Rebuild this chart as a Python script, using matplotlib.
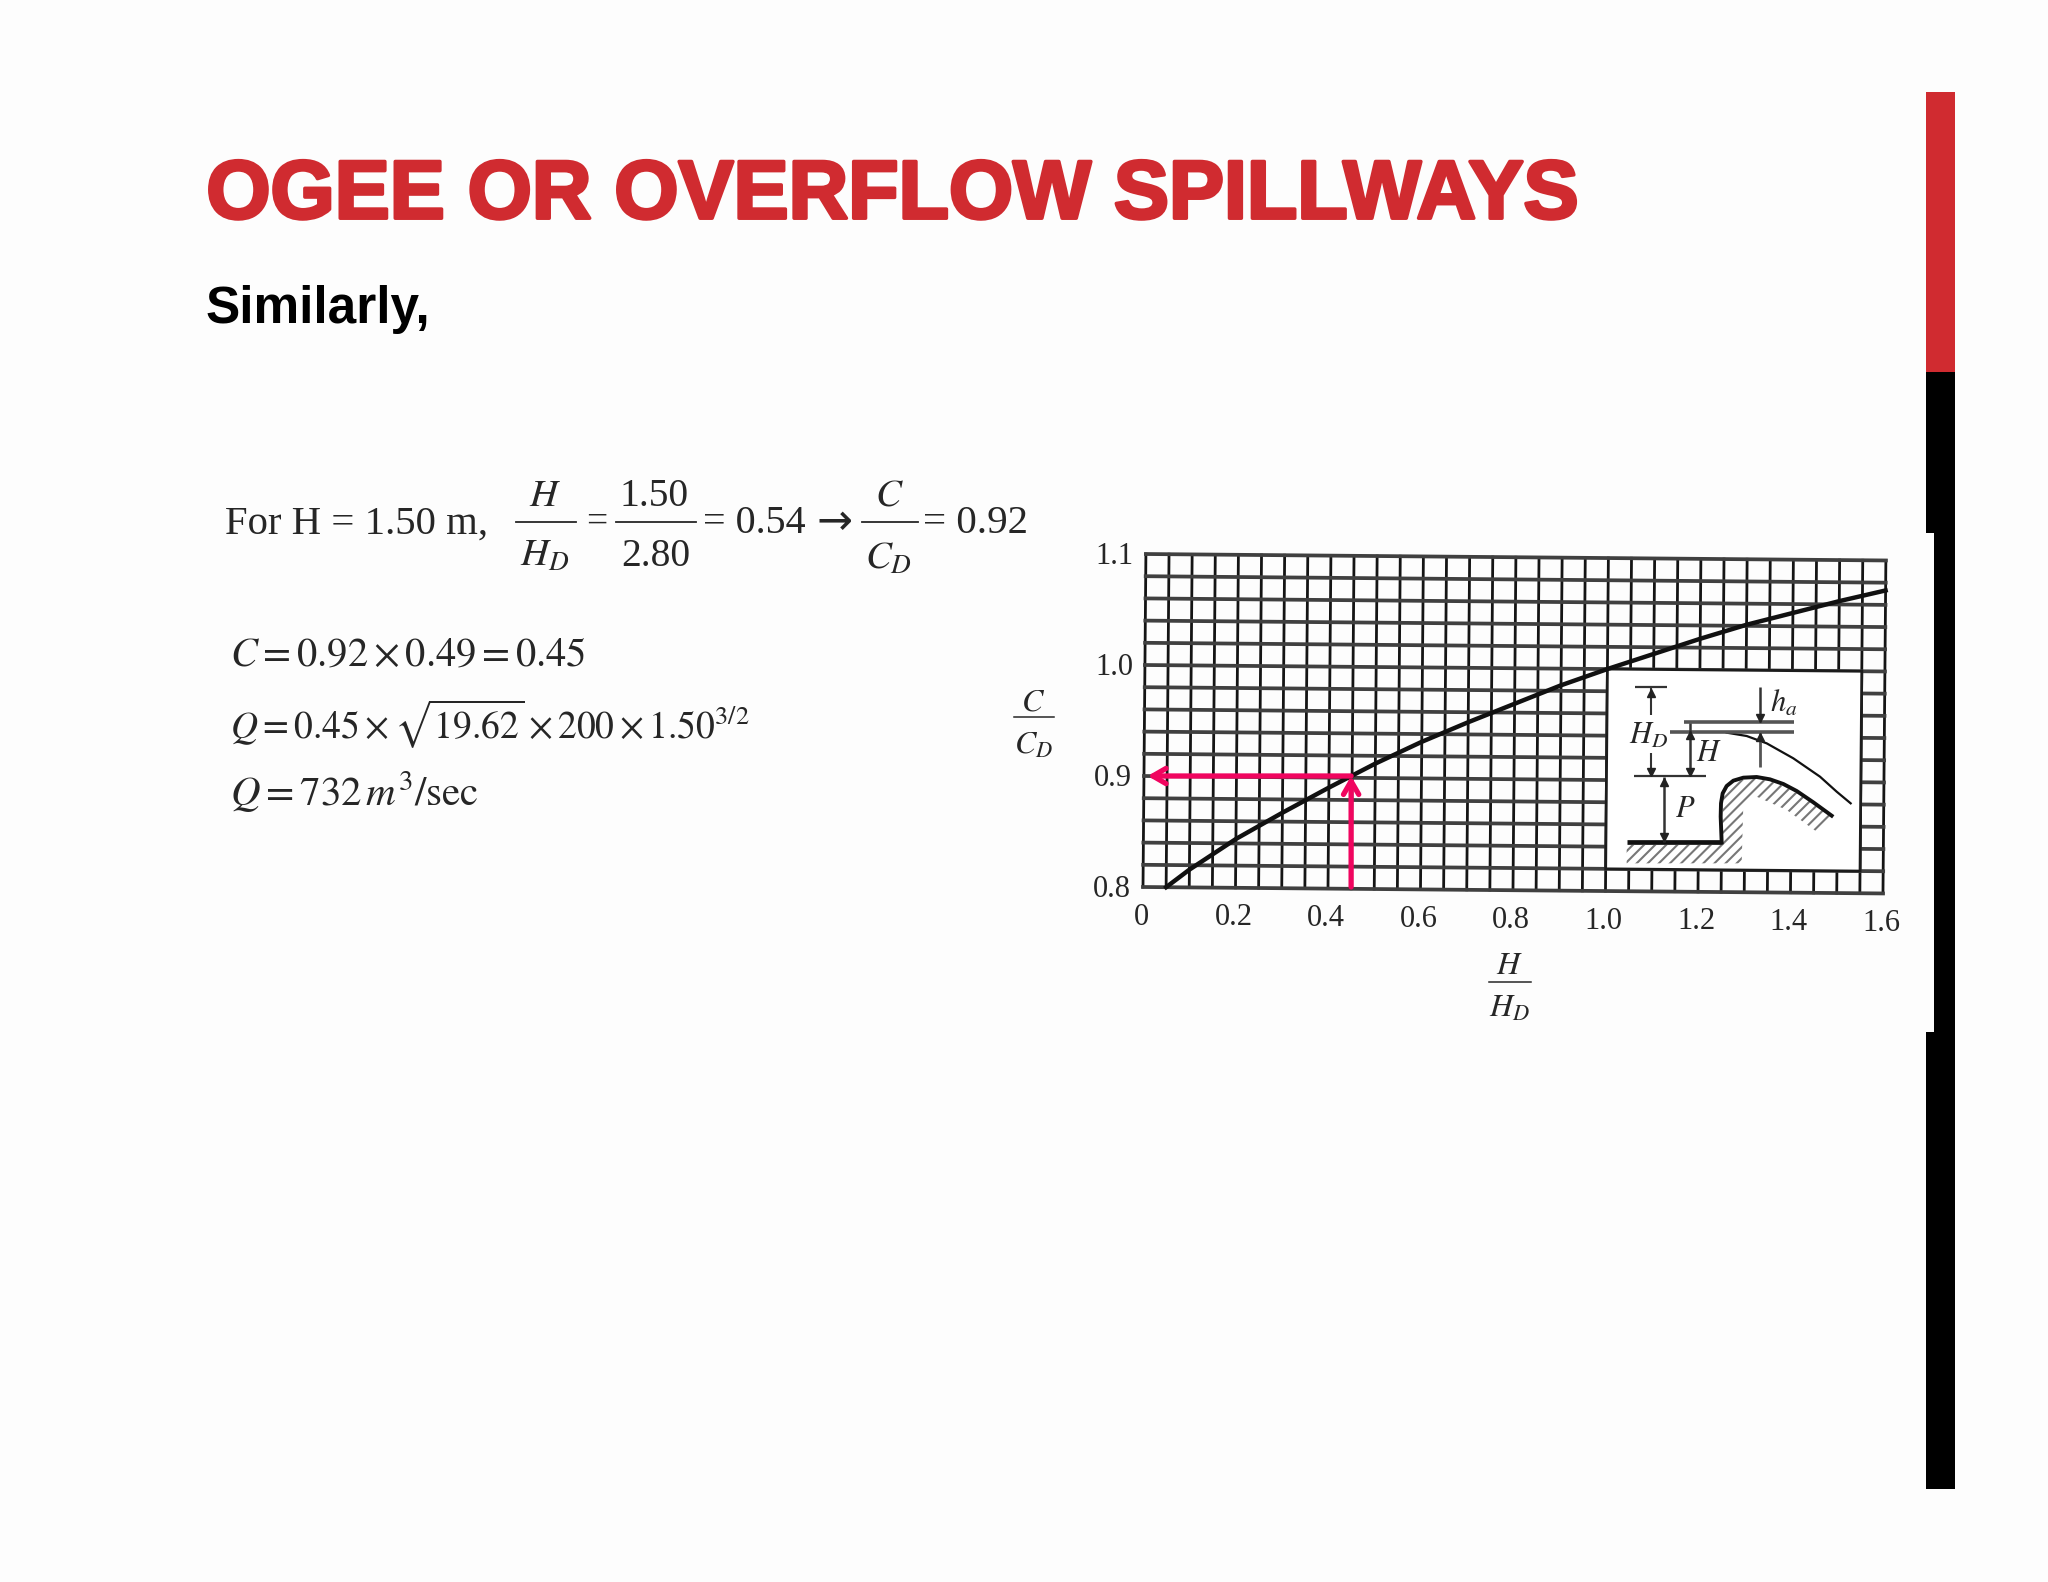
import numpy as np
import matplotlib
matplotlib.use('Agg')
import matplotlib.pyplot as plt
import matplotlib.patheffects as pe
from matplotlib.patches import Rectangle, Polygon
from matplotlib.transforms import Affine2D

# curve
hd_ratio = [0.05, 0.1, 0.2, 0.3, 0.4, 0.45, 0.5, 0.6, 0.7, 0.8, 0.9, 1.0, 1.1, 1.2, 1.3, 1.4, 1.5, 1.6]
cd_ratio = [0.800, 0.816, 0.844, 0.868, 0.891, 0.902, 0.913, 0.933, 0.951, 0.968, 0.985, 1.000,
            1.014, 1.028, 1.041, 1.052, 1.063, 1.073]
x_ticks = [0, 0.2, 0.4, 0.6, 0.8, 1.0, 1.2, 1.4, 1.6]
x_tick_labels = ['0', '0.2', '0.4', '0.6', '0.8', '1.0', '1.2', '1.4', '1.6']
y_ticks = [0.8, 0.9, 1.0, 1.1]
y_tick_labels = ['0.8', '0.9', '1.0', '1.1']
x_grid = np.arange(33)*0.05
y_grid = 0.8 + np.arange(16)*0.02
read_x = 0.45
read_y = 0.9

# sketch inside the chart, in sketch pixels
nappe_x = [440, 500, 560, 640, 720, 770, 812]
nappe_y = [218, 228, 250, 295, 350, 395, 430]
crest_x = [425, 422, 423, 428, 440, 460, 490, 530, 570, 610, 650, 700, 755]
crest_y = [547, 470, 430, 400, 378, 362, 353, 351, 358, 372, 393, 427, 467]
hatch_x = [140, 425, 430, 470, 530, 590, 650, 755, 710, 620, 530, 490, 485, 140]
hatch_y = [555, 555, 400, 362, 356, 369, 399, 470, 515, 450, 410, 430, 610, 610]

W, H = 2048, 1582
RED = '#d02b30'
PINK = '#f0055f'
INK = '#262626'

plt.rcParams['mathtext.fontset'] = 'stix'
plt.rcParams['font.family'] = ['Liberation Serif', 'DejaVu Sans']
plt.rcParams['hatch.linewidth'] = 1.5

fig = plt.figure(figsize=(W/100, H/100), dpi=100, facecolor='#fdfdfd')


def px(x, y, s, size=28, ha='center', va='center', **kw):
    # position in overview pixels (1568 wide)
    k = W/1568
    fig.text(x*k/W, 1 - y*k/H, s, fontsize=size, ha=ha, va=va, color=kw.pop('color', INK), **kw)


def bar(x0, x1, y0, y1, color):
    fig.add_artist(Rectangle((x0/W, 1 - y1/H), (x1 - x0)/W, (y1 - y0)/H,
                             transform=fig.transFigure, color=color, lw=0))


def rule(x0, x1, y, lw=1.3):
    k = W/1568
    fig.add_artist(plt.Line2D([x0*k/W, x1*k/W], [1 - y*k/H]*2, transform=fig.transFigure,
                              color=INK, lw=lw))


# side bar
bar(1926, 1955, 92, 372, RED)
bar(1926, 1955, 372, 1489, 'black')
bar(1926, 1934, 533, 1032, '#fdfdfd')

# headings
px(158, 151, 'OGEE OR OVERFLOW SPILLWAYS', size=59.4, ha='left', color=RED, family='Liberation Sans',
   weight='bold', path_effects=[pe.withStroke(linewidth=2.5, foreground=RED)])
px(157, 237, 'Similarly,', size=37, ha='left', color='black', family='Liberation Sans', weight='bold')

# worked equations
px(172, 401, 'For H = 1.50 m,', size=29.3, ha='left')
px(417, 380, r'$H$', size=28)
rule(395, 441, 400)
px(417, 426, r'$H_D$', size=28)
px(457, 400, '=', size=27)
px(501, 380, '1.50', size=28.5)
rule(472, 533, 400)
px(502, 426, '2.80', size=28.5)
px(538, 401, '= 0.54', size=28.8, ha='left')
px(639, 400, '\u2192', size=31, family='DejaVu Sans')
px(681, 380, r'$C$', size=28)
rule(660, 703, 400)
px(680, 428, r'$C_D$', size=28)
px(707, 401, '= 0.92', size=29.5, ha='left')
px(176, 502, r'$C=0.92\times0.49=0.45$', size=29.2, ha='left')
px(176, 554, r'$Q=0.45\times\sqrt{19.62}\times200\times1.50^{3/2}$', size=27, ha='left')
px(176, 606, r'$Q=732\,m^3/\mathrm{sec}$', size=29.5, ha='left')

# chart
ax = fig.add_axes([1143/W, 1 - 887/H, 740/W, 333/H])
ax.set_xlim(0, 1.6)
ax.set_ylim(0.8, 1.1)
ax.axis('off')
ax.patch.set_alpha(0)
tilt = ax.transData + Affine2D().rotate_deg_around(1143, H - 887, -0.5)

for v in x_grid:
    ax.plot([v, v], [0.8, 1.1], color='#141414', lw=2.0, transform=tilt, clip_on=False, zorder=2)
for v in y_grid:
    ax.plot([0, 1.6], [v, v], color='#404040', lw=2.7, transform=tilt, clip_on=False, zorder=2)
ax.add_patch(Rectangle((1.0, 0.82), 0.55, 0.18, facecolor='white', edgecolor='#1c1c1c', lw=2.0,
                       transform=tilt, zorder=3))
ax.plot(hd_ratio, cd_ratio, color='#111111', lw=3.2, transform=tilt, clip_on=False, zorder=4)

for v, s in zip(x_ticks, x_tick_labels):
    ax.text(v, 0.8, s, transform=tilt + Affine2D().translate(-2, -30), fontsize=22, ha='center', va='center', color=INK)
for v, s in zip(y_ticks, y_tick_labels):
    ax.text(0, v, s, transform=tilt + Affine2D().translate(-31, -2), fontsize=22, ha='center', va='center', color=INK)

px(791, 538, r'$C$', size=23)
rule(776, 807, 549, lw=1.1)
px(791, 571, r'$C_D$', size=23)
px(1156, 740, r'$H$', size=23)
rule(1140, 1172, 752, lw=1.1)
px(1156, 773, r'$H_D$', size=23)

# reading arrows
for start, end in [((read_x, 0.8), (read_x, read_y)), ((read_x, read_y), (0.01, read_y))]:
    ax.annotate('', xy=end, xytext=start, zorder=6,
                arrowprops=dict(arrowstyle='->,head_length=0.95,head_width=0.55', color=PINK, lw=3.8,
                                shrinkA=0, shrinkB=0))

# sketch
sk = fig.add_axes([1580/W, 1 - 890/H, 320/W, 230/H])
sk.set_xlim(0, 960)
sk.set_ylim(690, 0)
sk.axis('off')
sk.patch.set_alpha(0)
sk.add_patch(Polygon(np.column_stack([hatch_x, hatch_y]), closed=True, facecolor='none', edgecolor='#777777',
                     hatch='///', lw=0))
sk.plot(nappe_x, nappe_y, color='#111111', lw=1.6)
sk.plot(crest_x, crest_y, color='#111111', lw=2.8)
for xs, ys, lw, c in [([165, 262], [82, 82], 1.6, '#333333'),
                      ([312, 642], [187, 187], 2.6, '#555555'),
                      ([270, 642], [217, 217], 2.6, '#555555'),
                      ([162, 378], [348, 348], 1.6, '#333333'),
                      ([140, 425], [547, 547], 3.4, '#111111'),
                      ([212, 212], [85, 165], 1.5, '#333333'),
                      ([212, 212], [280, 345], 1.5, '#333333'),
                      ([330, 330], [190, 345], 1.8, '#333333'),
                      ([252, 252], [350, 545], 1.8, '#333333'),
                      ([540, 540], [80, 187], 1.8, '#333333'),
                      ([540, 540], [217, 320], 2.0, '#555555')]:
    sk.plot(xs, ys, color=c, lw=lw, solid_capstyle='butt')
for x, y, m in [(212, 100, '^'), (212, 335, 'v'), (330, 225, '^'), (330, 335, 'v'), (252, 365, '^'),
                (252, 530, 'v'), (540, 175, 'v'), (540, 230, '^')]:
    sk.plot(x, y, marker=m, ms=6, color='#222222', lw=0)
sk.text(205, 228, r'$H_D$', fontsize=22, ha='center', va='center', color=INK)
sk.text(388, 280, r'$H$', fontsize=22, ha='center', va='center', color=INK)
sk.text(315, 450, r'$P$', fontsize=22, ha='center', va='center', color=INK)
sk.text(610, 130, r'$h_a$', fontsize=22, ha='center', va='center', color=INK)

fig.savefig('out.png', dpi=100, facecolor=fig.get_facecolor())
